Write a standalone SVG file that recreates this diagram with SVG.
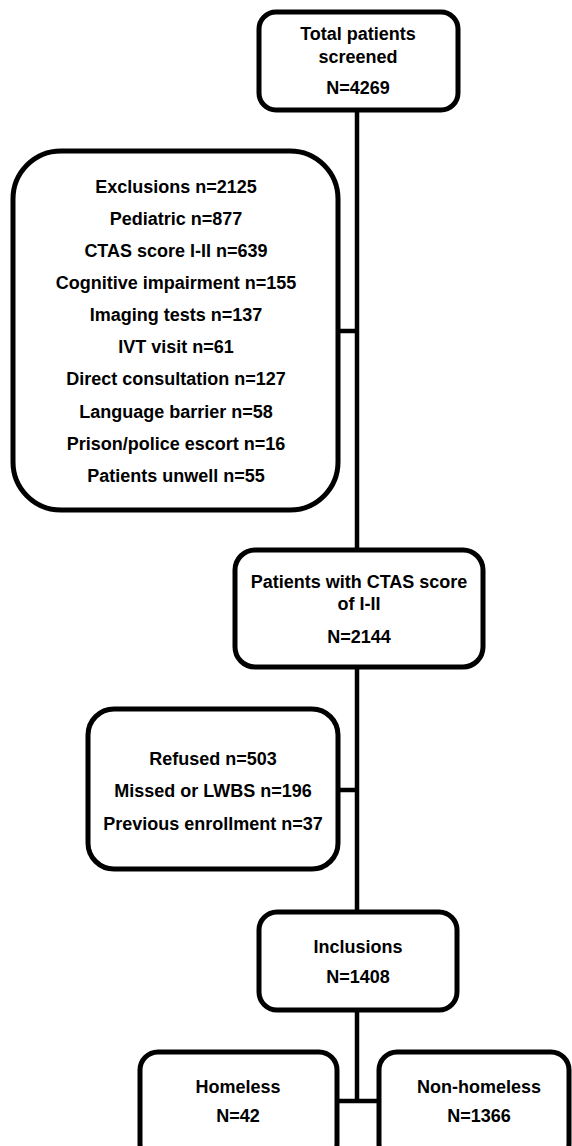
<svg xmlns="http://www.w3.org/2000/svg" width="572" height="1146" viewBox="0 0 572 1146">
<style>
.box{fill:#fff;stroke:#000;stroke-width:5}
.ln{fill:none;stroke:#000;stroke-width:4.5}
text{font-family:"Liberation Sans",Arial,sans-serif;font-weight:bold;font-size:18px;fill:#000;text-anchor:middle}
</style>
<rect x="0" y="0" width="572" height="1146" fill="#fff"/>
<g id="connectors">
<path class="ln" d="M357 110 V550"/>
<path class="ln" d="M338 331 H357"/>
<path class="ln" d="M357 667 V912"/>
<path class="ln" d="M338 790 H357"/>
<path class="ln" d="M357 1010 V1101 M337 1101 H379"/>
</g>
<g id="total">
<rect class="box" x="259" y="12" width="199" height="98" rx="17"/>
<text x="358" y="40">Total patients</text>
<text x="358" y="63">screened</text>
<text x="358" y="94">N=4269</text>
</g>
<g id="exclusions">
<rect class="box" x="13" y="151" width="325" height="359" rx="48"/>
<text x="176" y="193">Exclusions n=2125</text>
<text x="176" y="225">Pediatric n=877</text>
<text x="176" y="257">CTAS score I-II n=639</text>
<text x="176" y="289">Cognitive impairment n=155</text>
<text x="176" y="321">Imaging tests n=137</text>
<text x="176" y="353">IVT visit n=61</text>
<text x="176" y="385">Direct consultation n=127</text>
<text x="176" y="418">Language barrier n=58</text>
<text x="176" y="450">Prison/police escort n=16</text>
<text x="176" y="482">Patients unwell n=55</text>
</g>
<g id="ctas">
<rect class="box" x="235" y="550" width="248" height="117" rx="20"/>
<text x="359" y="588">Patients with CTAS score</text>
<text x="359" y="610">of I-II</text>
<text x="359" y="643">N=2144</text>
</g>
<g id="refused">
<rect class="box" x="88" y="709" width="250" height="160" rx="26"/>
<text x="213" y="765">Refused n=503</text>
<text x="213" y="797">Missed or LWBS n=196</text>
<text x="213" y="830">Previous enrollment n=37</text>
</g>
<g id="inclusions">
<rect class="box" x="259" y="912" width="198" height="98" rx="18"/>
<text x="358" y="953">Inclusions</text>
<text x="358" y="983">N=1408</text>
</g>
<g id="homeless">
<rect class="box" x="140" y="1052" width="197" height="110" rx="18"/>
<text x="238" y="1093">Homeless</text>
<text x="238" y="1122">N=42</text>
</g>
<g id="nonhomeless">
<rect class="box" x="379" y="1052" width="190" height="110" rx="18"/>
<text x="479" y="1093">Non-homeless</text>
<text x="479" y="1122">N=1366</text>
</g>
</svg>
